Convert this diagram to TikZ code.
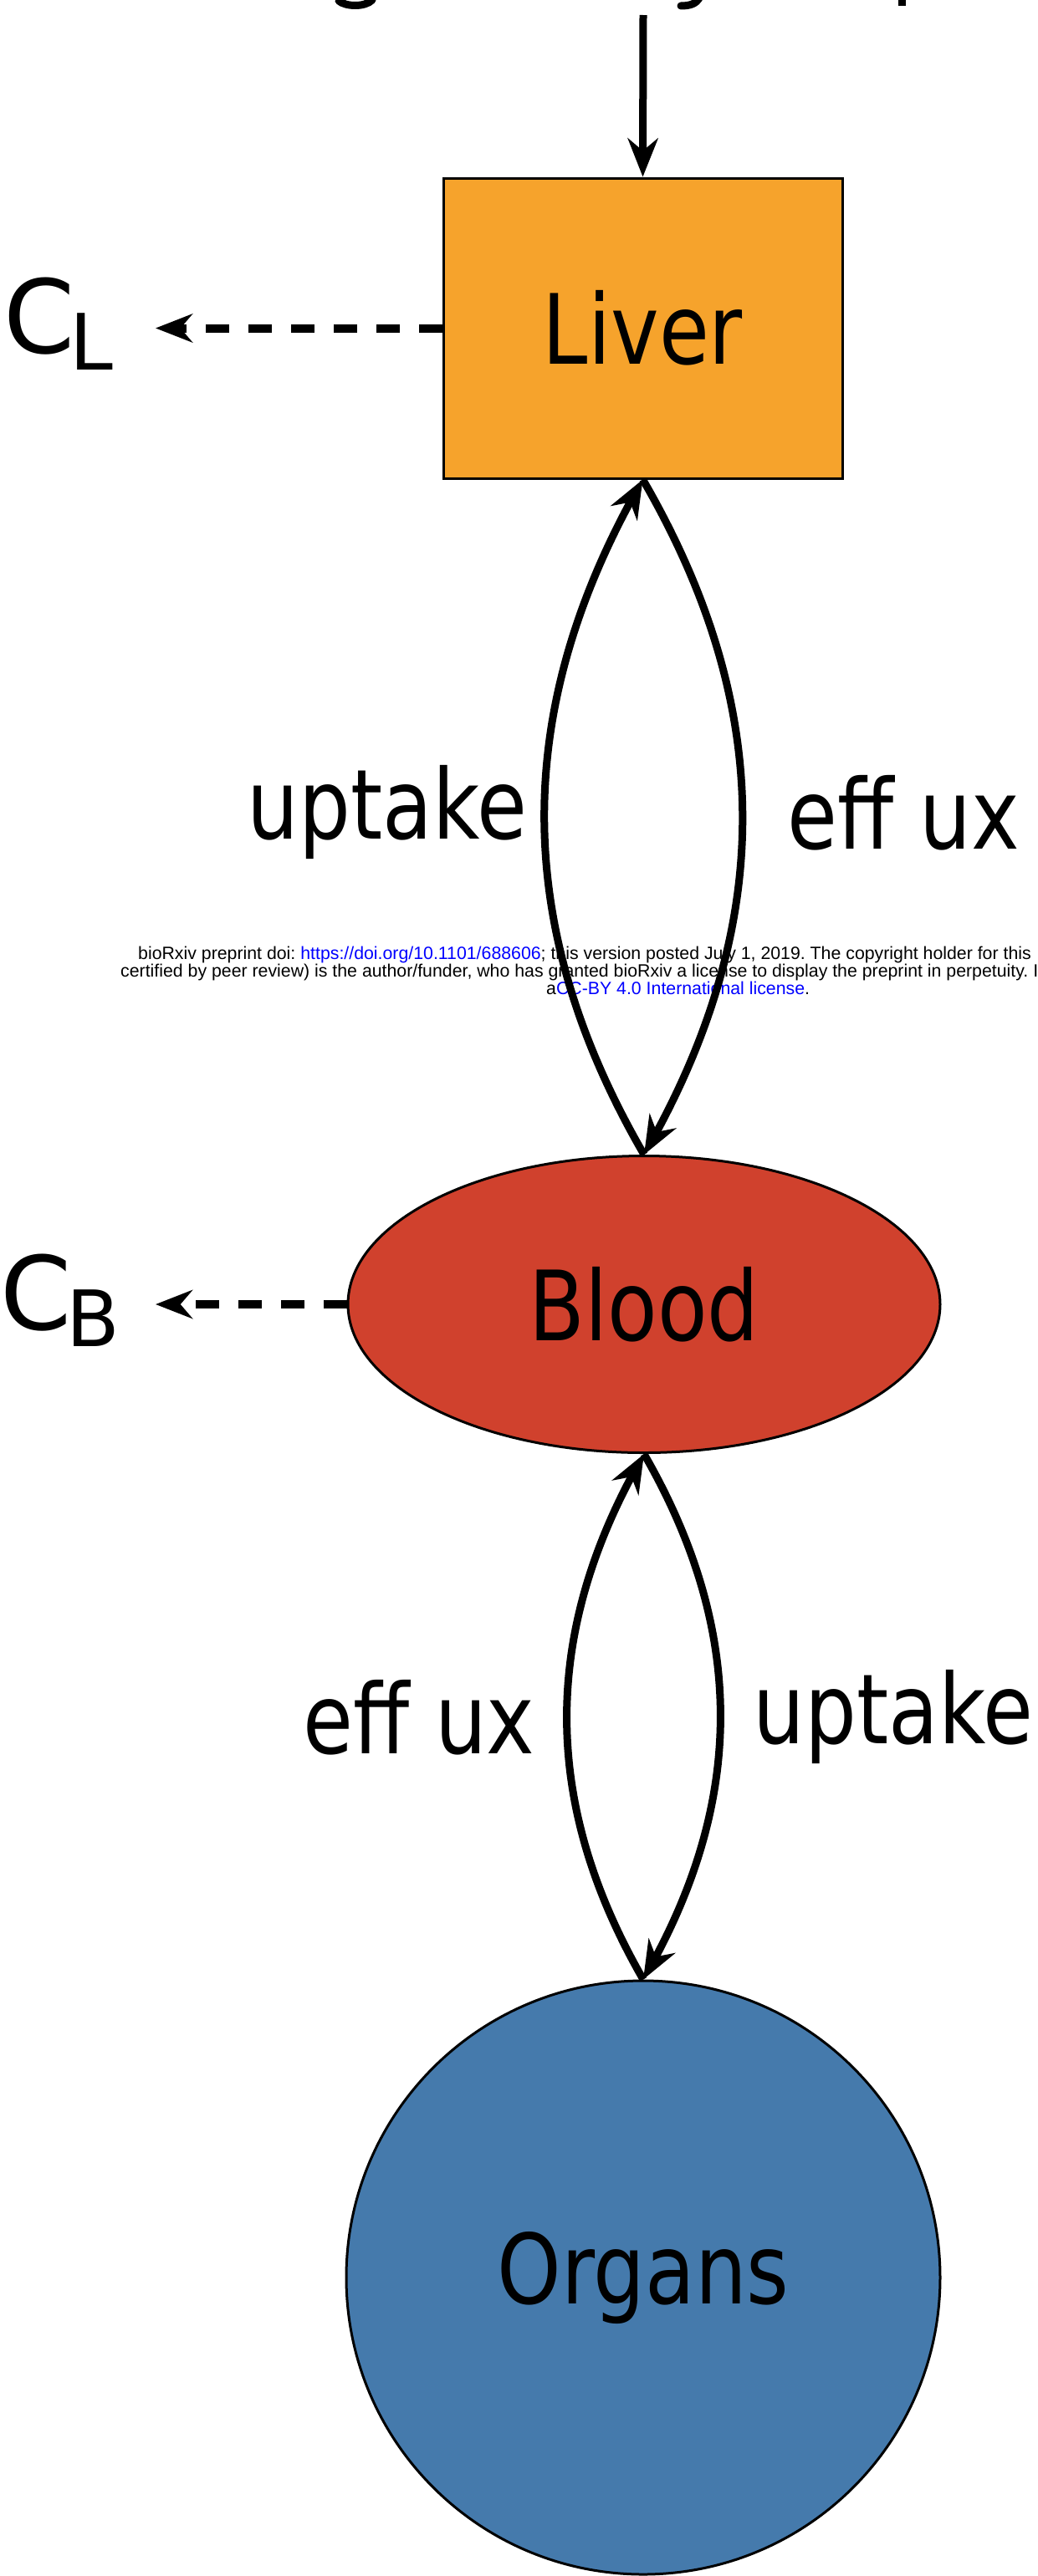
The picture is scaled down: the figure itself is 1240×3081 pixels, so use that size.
\documentclass[tikz,border=0pt]{standalone}
\usepackage{fontspec}
\setmainfont{DejaVu Sans}
\newfontfamily\narrowfont{DejaVu Sans}[FakeStretch=0.84]
\newfontfamily\notefont{Liberation Sans}
\usetikzlibrary{arrows.meta,bending,shapes.geometric}
\definecolor{liverorange}{RGB}{246,163,44}
\definecolor{bloodred}{RGB}{208,65,45}
\definecolor{organblue}{RGB}{69,122,172}
\definecolor{linkblue}{RGB}{0,0,255}
\tikzset{
	compartment/.style={draw=black, line width=3pt, inner sep=0pt, font=\narrowfont\fontsize{116}{130}\selectfont},
	flow/.style={line width=9pt, -{Stealth[length=46pt, width=36pt]}},
	clearance/.style={line width=10pt, dash pattern=on 28pt off 23pt, -{Stealth[length=44pt, width=34pt]}},
	flowlabel/.style={inner sep=0pt, anchor=base, font=\narrowfont\fontsize{116}{130}\selectfont},
	conclabel/.style={inner sep=0pt, anchor=base west, font=\fontsize{122}{130}\selectfont},
	notice/.style={inner sep=0pt, anchor=base west, font=\notefont\fontsize{21.3}{24}\selectfont}
}
\def\sub#1{\kern-6pt\raisebox{-20pt}{\fontsize{93}{100}\selectfont #1}}
\frenchspacing

\begin{document}
\begin{tikzpicture}[x=1pt, y=-1pt]
		\useasboundingbox (0,0) rectangle (1240,3081);
		%%%%% START %%%%%
		% cut-off heading above the picture
		\draw[line width=9pt, line cap=round] (405,1) .. controls (413,8) and (436,9) .. (445,0);
		\draw[line width=9pt, line cap=round] (814,7) .. controls (826,7) and (832,4) .. (836,-2);
		\draw[line width=9pt] (1078,-2) -- (1078,7);
		
		\node[compartment, rectangle, fill=liverorange, minimum width=477pt, minimum height=359pt] (liver) at (768.5,392.5) {Liver};
		\node[compartment, ellipse, fill=bloodred, minimum width=708pt, minimum height=355pt] (blood) at (770,1560) {Blood};
		\node[compartment, circle, fill=organblue, minimum size=710pt] (organs) at (769,2724) {Organs};
		
		\coordinate (feed) at (769,18);
		\draw[flow] (feed) -- (liver.north);
		
		\node[conclabel] (cl) at (4,422) {C\sub{L}};
		\node[conclabel] (cb) at (0,1590) {C\sub{B}};
		\coordinate (cltip) at (186,392.5);
		\coordinate (cbtip) at (186,1560);
		\draw[clearance] (liver.west) -- (cltip);
		\draw[clearance] (blood.west) -- (cbtip);
		
		\node[notice] (note1) at (165,1147) {bioRxiv preprint doi: \textcolor{linkblue}{https://doi.org/10.1101/688606}; this version posted July 1, 2019. The copyright holder for this};
		\node[notice] (note2) at (144,1168) {certified by peer review) is the author/funder, who has granted bioRxiv a license to display the preprint in perpetuity. I};
		\node[notice] (note3) at (653,1189) {a\textcolor{linkblue}{CC-BY 4.0 International license}.};
		
		\draw[flow] (blood.north) to[bend left=30] (liver.south);
		\draw[flow] (liver.south) to[bend left=30] (blood.north);
		\draw[flow] (organs.north) to[bend left=30] (blood.south);
		\draw[flow] (blood.south) to[bend left=30] (organs.north);
		
		\node[flowlabel] (upliver) at (463,1003) {uptake};
		\node[flowlabel] (effliver) at (1080,1015) {eff ux};
		\node[flowlabel] (efforgans) at (501,2097) {eff ux};
		\node[flowlabel] (uporgans) at (1068,2085) {uptake};
		%%%%% END %%%%%
	\end{tikzpicture}
\end{document}
